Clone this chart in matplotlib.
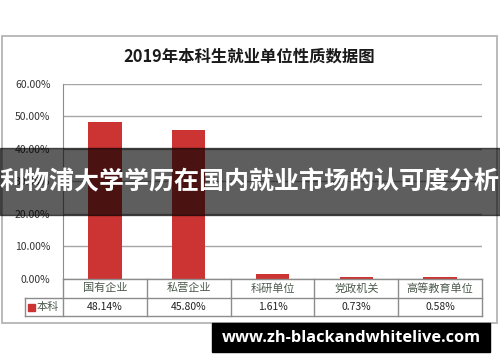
import matplotlib
matplotlib.use("Agg")
import matplotlib.pyplot as plt
from matplotlib.patches import Rectangle
from matplotlib.transforms import blended_transform_factory
from matplotlib.ticker import FuncFormatter, MultipleLocator

plt.rcParams['font.family'] = ['Noto Sans CJK SC', 'DejaVu Sans']

# 数据
title = '2019年本科生就业单位性质数据图'
categories = ['国有企业', '私营企业', '科研单位', '党政机关', '高等教育单位']
series_name = '本科'
values = [48.14, 45.80, 1.61, 0.73, 0.58]
banner_text = '利物浦大学学历在国内就业市场的认可度分析'
watermark = 'www.zh-blackandwhitelive.com'

W, H = 500, 362
fig = plt.figure(figsize=(W / 100, H / 100), dpi=100)


def fx(px):
    return px / W


def fy(py):
    return 1 - py / H


# 外框
fig.patches.append(Rectangle((fx(2), fy(322.5)), fx(495), 286.5 / H,
                             transform=fig.transFigure, fill=False,
                             edgecolor='#b4b4b4', lw=1.3, zorder=0))

fig.text(fx(249), fy(57), title, ha='center', va='center',
         fontsize=11.8, fontweight='bold', color='#1a1a1a')

# 绘图区
left, right, top, bottom = 63, 482, 83.7, 279
ax = fig.add_axes([fx(left), fy(bottom), fx(right - left), (bottom - top) / H])
x = list(range(len(categories)))
ax.bar(x, values, width=0.4, color='#cc3333', zorder=3)
ax.set_xlim(-0.5, len(categories) - 0.5)
ax.set_ylim(0, 60)
ax.yaxis.set_major_locator(MultipleLocator(10))
ax.yaxis.set_major_formatter(FuncFormatter(lambda v, p: f'{v:.2f}%'))
ax.grid(axis='y', color='#a6a6a6', lw=1, zorder=0)
for s in ['top', 'right', 'bottom']:
    ax.spines[s].set_visible(False)
ax.spines['left'].set_color('#8c8c8c')
ax.tick_params(axis='y', length=0, pad=9, labelsize=7.5, labelcolor='#333333')
ax.set_xticks([])

# 数据表
tr = blended_transform_factory(ax.transData, fig.transFigure)
unit = (right - left) / len(categories)
x_first = -0.5 - (left - 25) / unit
row1, row2, row3 = 279, 297.5, 315.7
line_kw = dict(color='#8c8c8c', lw=1, transform=tr, clip_on=False)
for yy in [row1, row2, row3]:
    x0 = -0.5 if yy == row1 else x_first
    fig.add_artist(plt.Line2D([x0, len(categories) - 0.5], [fy(yy), fy(yy)], **line_kw))
for i in range(len(categories) + 1):
    fig.add_artist(plt.Line2D([i - 0.5, i - 0.5], [fy(row1), fy(row3)], **line_kw))
fig.add_artist(plt.Line2D([x_first, x_first], [fy(row2), fy(row3)], **line_kw))

for i, (c, v) in enumerate(zip(categories, values)):
    fig.text(i, fy((row1 + row2) / 2), c, transform=tr, ha='center', va='center',
             fontsize=8, color='#4d5a4d')
    fig.text(i, fy((row2 + row3) / 2), f'{v:.2f}%', transform=tr, ha='center',
             va='center', fontsize=7.5, color='#222222', fontweight='medium')

fig.patches.append(Rectangle((fx(28), fy(310.5)), fx(7), 7 / H,
                             transform=fig.transFigure, color='#cc3333'))
fig.text(fx(37), fy((row2 + row3) / 2), series_name, ha='left', va='center',
         fontsize=8, color='#4d5a4d')

# 横幅
fig.patches.append(Rectangle((0, fy(214.5)), 1, 67 / H, transform=fig.transFigure,
                             color='black', alpha=0.63, zorder=10))
fig.text(fx(249), fy(182), banner_text, ha='center', va='center', fontsize=18,
         fontweight='bold', color='white', zorder=11)

# 水印
fig.patches.append(Rectangle((fx(212), fy(352)), fx(278), 29 / H,
                             transform=fig.transFigure, color='black', zorder=10))
fig.text(fx(351), fy(337.5), watermark, ha='center', va='center', fontsize=11.8,
         fontweight='bold', color='white', family=['Open Sans', 'DejaVu Sans'],
         zorder=11)

fig.savefig('out.png', dpi=100)
